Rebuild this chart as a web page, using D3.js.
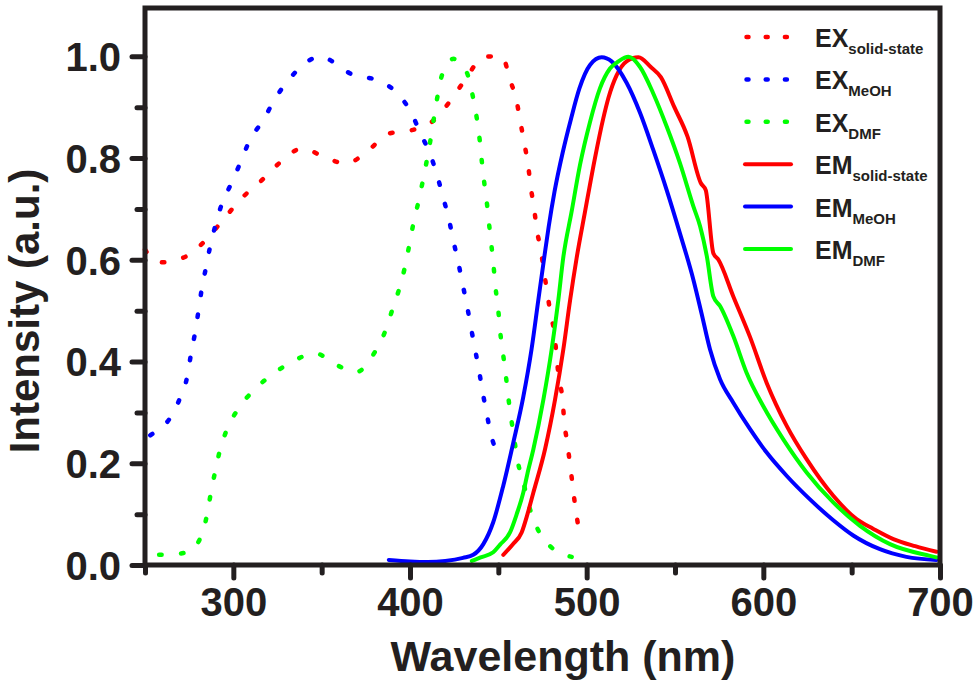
<!DOCTYPE html>
<html>
<head>
<meta charset="utf-8">
<script src="https://cdn.jsdelivr.net/npm/d3@7"></script>
<style>
  html, body { margin: 0; padding: 0; background: #fff; }
  svg { display: block; }
  text { font-family: "Liberation Sans", Arial, sans-serif; font-weight: bold; fill: #231f20; }
</style>
</head>
<body>
<svg id="chart" width="979" height="687"></svg>
<script>
// ---------- data (wavelength nm, normalized intensity) ----------
const exSolid = [[250,0.62],[255,0.60],[261,0.595],[268,0.60],[274,0.608],[284.5,0.639],[295,0.682],[305,0.722],[316,0.756],[327,0.793],[339,0.819],[351.5,0.802],[364,0.789],[376,0.814],[388,0.848],[400,0.854],[412,0.870],[422.5,0.911],[431,0.953],[441.5,0.998],[447,1.0],[452.4,0.998],[456.6,0.954],[460.4,0.911],[462.6,0.869],[464.7,0.829],[466.9,0.785],[468.3,0.744],[470.2,0.703],[471.7,0.661],[474.0,0.620],[475.8,0.578],[477.7,0.535],[479.6,0.493],[481.9,0.451],[483,0.409],[484.3,0.366],[486.4,0.324],[487.3,0.282],[489,0.241],[490.6,0.197],[492.1,0.156],[493.6,0.113],[495.3,0.073],[496,0.05]];
const exMeOH = [[253,0.255],[256,0.262],[264,0.288],[270,0.330],[274,0.372],[276,0.414],[278.3,0.456],[280.2,0.498],[282,0.540],[284.4,0.583],[286.8,0.625],[289.8,0.667],[293.4,0.709],[298.7,0.749],[304,0.791],[309,0.833],[317,0.875],[323.7,0.917],[332.6,0.959],[344,0.994],[350,1.0],[356,0.990],[368,0.963],[380.6,0.954],[391.7,0.931],[400.7,0.889],[406,0.848],[411.7,0.805],[415.6,0.763],[418.8,0.722],[422,0.680],[424.5,0.638],[427.2,0.597],[429.6,0.555],[432.1,0.513],[434.3,0.471],[436.6,0.428],[438.9,0.386],[440.9,0.344],[443.2,0.302],[445.6,0.260],[448,0.232],[451,0.218]];
const exDMF = [[258,0.02],[261,0.020],[274,0.025],[281.7,0.056],[285,0.097],[287.2,0.140],[289.6,0.182],[292.3,0.224],[296.2,0.265],[303,0.308],[312,0.345],[322.6,0.376],[334,0.401],[346.4,0.416],[358.5,0.393],[369.4,0.379],[380,0.418],[386,0.460],[390,0.502],[393.9,0.543],[397.2,0.587],[399.6,0.629],[401.9,0.671],[404.7,0.713],[407.2,0.754],[409.5,0.795],[411.7,0.838],[413.6,0.880],[415.6,0.922],[418.1,0.963],[424.5,0.995],[429,0.985],[433,0.960],[435.8,0.917],[437.9,0.876],[439.5,0.834],[440.7,0.792],[442.1,0.750],[443.6,0.709],[444.9,0.666],[446.2,0.625],[447.4,0.584],[448.5,0.543],[450,0.500],[451.1,0.457],[452.6,0.417],[454.2,0.374],[455.6,0.331],[457.2,0.290],[459,0.248],[460.9,0.205],[464.1,0.164],[466.9,0.122],[471.3,0.078],[479.6,0.036],[486,0.022],[491.5,0.016]];
const emSolid = [[452.8,0.020],[458,0.040],[463.2,0.064],[466.5,0.10],[469.8,0.142],[476.4,0.227],[482.1,0.325],[486.8,0.424],[490.6,0.520],[494.3,0.603],[499.1,0.695],[504.7,0.800],[509.4,0.878],[512.3,0.918],[517,0.963],[522.6,0.990],[529.3,0.998],[536.3,0.979],[542,0.959],[549.5,0.901],[557.1,0.842],[564.6,0.751],[567.4,0.737],[571.7,0.613],[574.6,0.600],[583,0.528],[592.5,0.448],[601.9,0.358],[613.3,0.273],[624.5,0.208],[639.6,0.136],[652.8,0.090],[662.3,0.071],[673.6,0.051],[686,0.037],[698,0.026]];
const emMeOH = [[388,0.010],[400,0.007],[410,0.006],[420,0.008],[430,0.014],[435.8,0.020],[441.5,0.041],[447.1,0.084],[452.8,0.156],[458.5,0.241],[464.1,0.330],[468.8,0.424],[472.6,0.520],[476,0.605],[478.5,0.665],[481.8,0.734],[486.5,0.812],[491.2,0.878],[495.9,0.937],[501.9,0.983],[508.5,0.998],[514.1,0.990],[522.6,0.948],[530.2,0.889],[537.7,0.816],[545.3,0.737],[552.8,0.652],[560.4,0.561],[565,0.495],[569.8,0.424],[575.5,0.365],[583,0.319],[592.5,0.267],[601.9,0.221],[613.3,0.175],[626.4,0.129],[639.6,0.088],[650.9,0.058],[666,0.031],[681,0.016],[698,0.010]];
const emDMF = [[435,0.008],[440,0.015],[447.1,0.025],[451,0.040],[456.6,0.064],[460.4,0.100],[464.1,0.142],[466.5,0.18],[469.8,0.227],[475.5,0.325],[480.2,0.424],[484,0.522],[486.7,0.603],[491.5,0.695],[496.2,0.786],[501.9,0.871],[507.5,0.937],[513.2,0.976],[518,0.990],[523.6,0.999],[530.2,0.979],[537.7,0.927],[545.3,0.862],[552.8,0.790],[560.4,0.705],[564.2,0.666],[568,0.607],[571.7,0.528],[575.5,0.509],[583,0.450],[590.5,0.378],[600,0.312],[611.3,0.247],[624.5,0.182],[639.6,0.123],[654.7,0.077],[671.7,0.041],[694.3,0.018],[698,0.015]];

const seriesNames = ["EX", "EX", "EX", "EM", "EM", "EM"];
const seriesSubs = ["solid-state", "MeOH", "DMF", "solid-state", "MeOH", "DMF"];
const seriesColors = ["#ff0000", "#0000ff", "#00ff00", "#ff0000", "#0000ff", "#00ff00"];
const seriesDotted = [true, true, true, false, false, false];
const seriesData = [exSolid, exMeOH, exDMF, emSolid, emMeOH, emDMF];

const xDomain = [250, 700];
const yDomain = [0, 1.095];
const xTicks = [300, 400, 500, 600, 700];
const xMinor = [250, 350, 450, 550, 650];
const yTicks = [0, 0.2, 0.4, 0.6, 0.8, 1.0];
const yMinor = [0.1, 0.3, 0.5, 0.7, 0.9];
const xTitle = "Wavelength (nm)";
const yTitle = "Intensity (a.u.)";

// ---------- layout ----------
const L = 145, R = 940, T = 8, B = 565;
const ink = "#231f20";
const svg = d3.select("#chart");
const x = d3.scaleLinear().domain(xDomain).range([L, R]);
const y = d3.scaleLinear().domain(yDomain).range([B, T]);

// curves
const line = d3.line().x(d => x(d[0])).y(d => y(d[1])).curve(d3.curveMonotoneX);
const plot = svg.append("g");
seriesData.forEach((data, i) => {
  plot.append("path")
    .attr("d", line(data))
    .attr("fill", "none")
    .attr("stroke", seriesColors[i])
    .attr("stroke-width", seriesDotted[i] ? 4.5 : 4)
    .attr("stroke-linecap", "round")
    .attr("stroke-linejoin", "round")
    .attr("stroke-dasharray", seriesDotted[i] ? "2.5 19.5" : null);
});

// axes
const fmt = d3.format(".1f");
const gx = svg.append("g").attr("transform", `translate(0,${B})`)
  .call(d3.axisBottom(x).tickValues(xTicks).tickSize(13).tickSizeOuter(0).tickPadding(10).tickFormat(d3.format("d")));
const gxm = svg.append("g").attr("transform", `translate(0,${B})`)
  .call(d3.axisBottom(x).tickValues(xMinor).tickSize(8).tickSizeOuter(0).tickFormat(""));
const gy = svg.append("g").attr("transform", `translate(${L},0)`)
  .call(d3.axisLeft(y).tickValues(yTicks).tickSize(13).tickSizeOuter(0).tickPadding(11).tickFormat(fmt));
const gym = svg.append("g").attr("transform", `translate(${L},0)`)
  .call(d3.axisLeft(y).tickValues(yMinor).tickSize(8).tickSizeOuter(0).tickFormat(""));
[gx, gxm, gy, gym].forEach(g => {
  g.select(".domain").remove();
  g.selectAll(".tick line").attr("stroke", ink).attr("stroke-width", 5).attr("stroke-linecap", "round");
  g.selectAll(".tick text").attr("fill", ink)
    .style("font-family", '"Liberation Sans", Arial, sans-serif')
    .style("font-weight", "bold").style("font-size", "40px");
});
gx.selectAll(".tick text").attr("dy", "0.71em");
gy.selectAll(".tick text").attr("dy", "0.36em");

// frame
svg.append("rect").attr("x", L).attr("y", T).attr("width", R - L).attr("height", B - T)
  .attr("fill", "none").attr("stroke", ink).attr("stroke-width", 5);

// axis titles
svg.append("text").attr("x", 563).attr("y", 671).attr("text-anchor", "middle")
  .style("font-size", "43px").text(xTitle);
svg.append("text").attr("transform", "translate(39,311) rotate(-90)").attr("text-anchor", "middle")
  .style("font-size", "42px").text(yTitle);

// legend
const lg = svg.append("g");
seriesNames.forEach((name, i) => {
  const ly = 37 + i * 42.4;
  lg.append("line").attr("x1", seriesDotted[i] ? 746.5 : 745).attr("x2", seriesDotted[i] ? 789 : 791)
    .attr("y1", ly).attr("y2", ly)
    .attr("stroke", seriesColors[i]).attr("stroke-width", seriesDotted[i] ? 4.5 : 4).attr("stroke-linecap", "round")
    .attr("stroke-dasharray", seriesDotted[i] ? "2 17.2" : null);
  const t = lg.append("text").attr("x", 815).attr("y", ly + 10).style("font-size", "25px").text(name);
  t.append("tspan").attr("dy", 7).style("font-size", "15px").text(seriesSubs[i]);
});
</script>
</body>
</html>
